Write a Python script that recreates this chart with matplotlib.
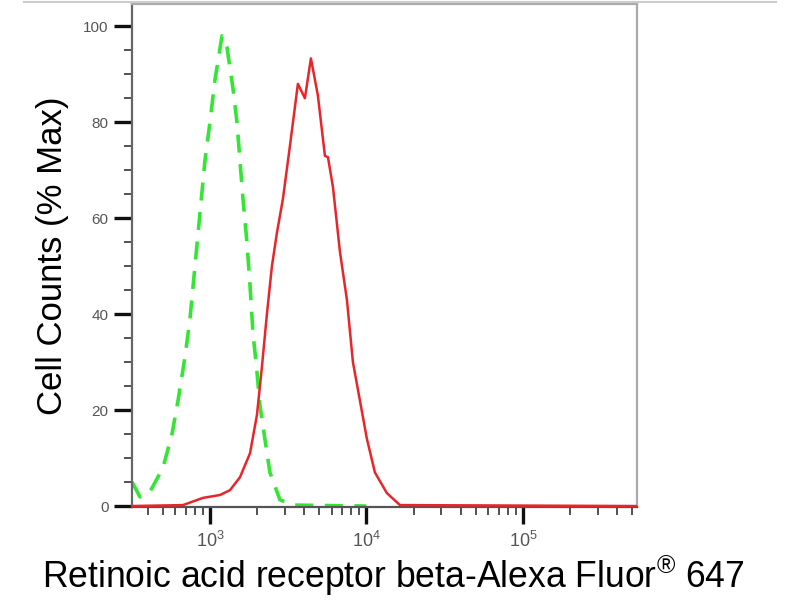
import numpy as np
import matplotlib
matplotlib.use("Agg")
import matplotlib.pyplot as plt
from matplotlib.ticker import LogLocator, NullFormatter, MultipleLocator
from matplotlib.lines import Line2D

plt.rcParams['font.family'] = ['Liberation Sans', 'DejaVu Sans']
plt.rcParams['mathtext.default'] = 'regular'

# stained sample (red, solid)
red_x = [318, 672, 902, 1158, 1342, 1555, 1803, 1997, 2148, 2312, 2489, 2680,
         2926, 3242, 3648, 4044, 4418, 4894, 5429, 5678, 6111, 6772, 7504,
         8197, 9085, 10070, 11330, 13510, 16370, 534000]
red_y = [0, 0.2, 1.7, 2.3, 3.3, 6, 11, 19, 29, 40, 50, 57,
         64, 75, 88, 85, 93.3, 85.6, 73, 72.7, 66.5, 53, 43,
         30, 22, 14, 7, 2.7, 0.2, 0]

# isotype control (green, dashed)
green_x = [318, 357, 414, 501, 572, 625, 692, 745, 802, 863, 929, 1000, 1076,
           1194, 1285, 1404, 1488, 1555, 1626, 1723, 1803, 1884, 1997, 2085,
           2244, 2416, 2800, 3388, 10000]
green_y = [5, 1.9, 3, 8, 15, 22, 31, 39, 50, 61, 72, 80, 88.8,
           98, 95.6, 87, 80, 72, 64, 55, 46, 36, 28, 21,
           14, 7, 1.3, 0.2, 0]

fig = plt.figure(figsize=(8, 6), dpi=100)
ax = fig.add_axes([0.165, 0.155, 0.631, 0.838])

ax.plot(green_x, green_y, color='#33e633', lw=2.6, dashes=(5, 3.2), zorder=2)
ax.plot(red_x, red_y, color='#e8262a', lw=1.8, zorder=3)

ax.set_xscale('log')
ax.set_xlim(317.5, 534600)
ax.set_ylim(-0.2, 104.6)

ax.xaxis.set_major_locator(LogLocator(base=10))
ax.xaxis.set_minor_locator(LogLocator(base=10, subs=np.arange(2, 10)))
ax.xaxis.set_minor_formatter(NullFormatter())
ax.yaxis.set_major_locator(MultipleLocator(20))
ax.yaxis.set_minor_locator(MultipleLocator(5))

ax.tick_params(which='major', direction='out', length=12, width=2.4, color='#111111',
               labelsize=11, labelcolor='#555555', pad=4)
ax.tick_params(which='minor', direction='out', length=6, width=1.2, color='#333333')
ax.tick_params(axis='y', which='major', length=13)
ax.tick_params(axis='x', which='major', labelsize=13, pad=5)

for side, col in [('left', '#666666'), ('bottom', '#555555'),
                  ('top', '#aaaaaa'), ('right', '#aaaaaa')]:
    ax.spines[side].set_color(col)
    ax.spines[side].set_linewidth(1.6)

ax.set_ylabel('Cell Counts (% Max)', fontsize=25, labelpad=10)
ax.set_xlabel('Retinoic acid receptor beta-Alexa Fluor$^{®}$ 647', fontsize=25.6, labelpad=2)
ax.xaxis.label.set_x(0.517)

# faint rule along the top of the image
fig.add_artist(Line2D([0.03, 0.97], [0.996, 0.996], transform=fig.transFigure,
                      color='#cccccc', lw=1.5))

fig.savefig('out.png', dpi=100)
